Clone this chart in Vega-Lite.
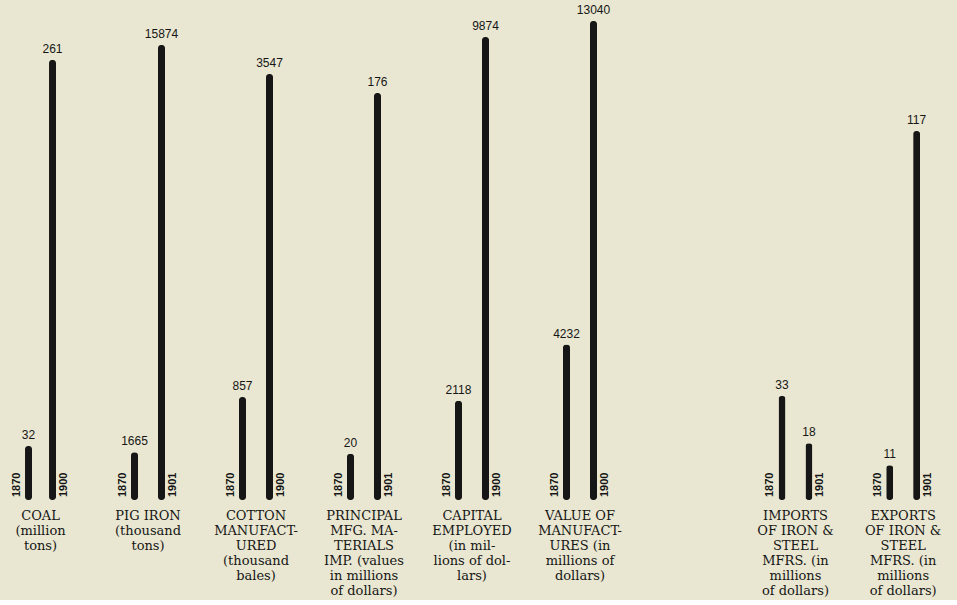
{
"$schema": "https://vega.github.io/schema/vega-lite/v6.json",
"background": "#e9e7d1",
"padding": {"left": 0, "right": 0, "top": 3, "bottom": 2},
"config": {"view": {"stroke": null}},
"spacing": 0,
"resolve": {"scale": {"x": "independent", "xOffset": "independent", "y": "independent"}},
"data": {"values": [
 {"item": "Coal", "label": "COAL\n(million\ntons)", "year": 1870, "value": 32},
 {"item": "Coal", "label": "COAL\n(million\ntons)", "year": 1900, "value": 261},
 {"item": "Pig", "label": "PIG IRON\n(thousand\ntons)", "year": 1870, "value": 1665},
 {"item": "Pig", "label": "PIG IRON\n(thousand\ntons)", "year": 1901, "value": 15874},
 {"item": "Cotton", "label": "COTTON\nMANUFACT-\nURED\n(thousand\nbales)", "year": 1870, "value": 857},
 {"item": "Cotton", "label": "COTTON\nMANUFACT-\nURED\n(thousand\nbales)", "year": 1900, "value": 3547},
 {"item": "Principal", "label": "PRINCIPAL\nMFG. MA-\nTERIALS\nIMP. (values\nin millions\nof dollars)", "year": 1870, "value": 20},
 {"item": "Principal", "label": "PRINCIPAL\nMFG. MA-\nTERIALS\nIMP. (values\nin millions\nof dollars)", "year": 1901, "value": 176},
 {"item": "Capital", "label": "CAPITAL\nEMPLOYED\n(in mil-\nlions of dol-\nlars)", "year": 1870, "value": 2118},
 {"item": "Capital", "label": "CAPITAL\nEMPLOYED\n(in mil-\nlions of dol-\nlars)", "year": 1900, "value": 9874},
 {"item": "Value", "label": "VALUE OF\nMANUFACT-\nURES (in\nmillions of\ndollars)", "year": 1870, "value": 4232},
 {"item": "Value", "label": "VALUE OF\nMANUFACT-\nURES (in\nmillions of\ndollars)", "year": 1900, "value": 13040},
 {"item": "Imports", "label": "IMPORTS\nOF IRON &\nSTEEL\nMFRS. (in\nmillions\nof dollars)", "year": 1870, "value": 33},
 {"item": "Imports", "label": "IMPORTS\nOF IRON &\nSTEEL\nMFRS. (in\nmillions\nof dollars)", "year": 1901, "value": 18},
 {"item": "Exports", "label": "EXPORTS\nOF IRON &\nSTEEL\nMFRS. (in\nmillions\nof dollars)", "year": 1870, "value": 11},
 {"item": "Exports", "label": "EXPORTS\nOF IRON &\nSTEEL\nMFRS. (in\nmillions\nof dollars)", "year": 1901, "value": 117}
]},
"hconcat": [
 {"width": 94, "height": 480,
  "transform": [{"filter": "datum.item === 'Coal'"}],
  "layer": [
   {"mark": {"type": "bar", "width": 7, "color": "#161616", "cornerRadius": 3},
    "encoding": {"x": {"field": "item", "type": "nominal", "axis": null, "scale": {"paddingInner": 0, "paddingOuter": 0.08, "align": 0}},
     "xOffset": {"field": "year", "type": "ordinal", "scale": {"paddingInner": 0, "paddingOuter": 0.6875}},
     "y": {"field": "value", "type": "quantitative", "axis": null, "scale": {"domain": [0, 284.7], "nice": false}}}},
   {"mark": {"type": "text", "baseline": "bottom", "dy": -4, "font": "Liberation Sans", "fontSize": 12, "color": "#161616"},
    "encoding": {"x": {"field": "item", "type": "nominal", "axis": null}, "xOffset": {"field": "year", "type": "ordinal"},
     "y": {"field": "value", "type": "quantitative", "axis": null}, "text": {"field": "value", "type": "quantitative", "format": "d"}}},
   {"transform": [{"filter": "datum.year === 1870"}],
    "mark": {"type": "text", "angle": 270, "align": "left", "baseline": "middle", "dx": 3, "dy": -12, "font": "Liberation Sans", "fontSize": 11, "fontWeight": "bold", "color": "#161616"},
    "encoding": {"x": {"field": "item", "type": "nominal", "axis": null}, "xOffset": {"field": "year", "type": "ordinal"},
     "y": {"datum": 0, "type": "quantitative", "axis": null}, "text": {"field": "year", "type": "nominal"}}},
   {"transform": [{"filter": "datum.year !== 1870"}],
    "mark": {"type": "text", "angle": 270, "align": "left", "baseline": "middle", "dx": 3, "dy": 11, "font": "Liberation Sans", "fontSize": 11, "fontWeight": "bold", "color": "#161616"},
    "encoding": {"x": {"field": "item", "type": "nominal", "axis": null}, "xOffset": {"field": "year", "type": "ordinal"},
     "y": {"datum": 0, "type": "quantitative", "axis": null}, "text": {"field": "year", "type": "nominal"}}},
   {"transform": [{"filter": "datum.year === 1870"}],
    "mark": {"type": "text", "baseline": "top", "dy": 10, "align": "center", "font": "DejaVu Serif", "fontSize": 13, "lineBreak": "\n", "lineHeight": 15, "color": "#161616"},
    "encoding": {"x": {"field": "item", "type": "nominal", "axis": null},
     "y": {"datum": 0, "type": "quantitative", "axis": null}, "text": {"field": "label", "type": "nominal"}}}
  ]},
 {"width": 108, "height": 480,
  "transform": [{"filter": "datum.item === 'Pig'"}],
  "layer": [
   {"mark": {"type": "bar", "width": 7, "color": "#161616", "cornerRadius": 3},
    "encoding": {"x": {"field": "item", "type": "nominal", "axis": null, "scale": {"paddingInner": 0, "paddingOuter": 0}},
     "xOffset": {"field": "year", "type": "ordinal", "scale": {"paddingInner": 0, "paddingOuter": 1.25}},
     "y": {"field": "value", "type": "quantitative", "axis": null, "scale": {"domain": [0, 16746], "nice": false}}}},
   {"mark": {"type": "text", "baseline": "bottom", "dy": -4, "font": "Liberation Sans", "fontSize": 12, "color": "#161616"},
    "encoding": {"x": {"field": "item", "type": "nominal", "axis": null}, "xOffset": {"field": "year", "type": "ordinal"},
     "y": {"field": "value", "type": "quantitative", "axis": null}, "text": {"field": "value", "type": "quantitative", "format": "d"}}},
   {"transform": [{"filter": "datum.year === 1870"}],
    "mark": {"type": "text", "angle": 270, "align": "left", "baseline": "middle", "dx": 3, "dy": -12, "font": "Liberation Sans", "fontSize": 11, "fontWeight": "bold", "color": "#161616"},
    "encoding": {"x": {"field": "item", "type": "nominal", "axis": null}, "xOffset": {"field": "year", "type": "ordinal"},
     "y": {"datum": 0, "type": "quantitative", "axis": null}, "text": {"field": "year", "type": "nominal"}}},
   {"transform": [{"filter": "datum.year !== 1870"}],
    "mark": {"type": "text", "angle": 270, "align": "left", "baseline": "middle", "dx": 3, "dy": 11, "font": "Liberation Sans", "fontSize": 11, "fontWeight": "bold", "color": "#161616"},
    "encoding": {"x": {"field": "item", "type": "nominal", "axis": null}, "xOffset": {"field": "year", "type": "ordinal"},
     "y": {"datum": 0, "type": "quantitative", "axis": null}, "text": {"field": "year", "type": "nominal"}}},
   {"transform": [{"filter": "datum.year === 1870"}],
    "mark": {"type": "text", "baseline": "top", "dy": 10, "align": "center", "font": "DejaVu Serif", "fontSize": 13, "lineBreak": "\n", "lineHeight": 15, "color": "#161616"},
    "encoding": {"x": {"field": "item", "type": "nominal", "axis": null},
     "y": {"datum": 0, "type": "quantitative", "axis": null}, "text": {"field": "label", "type": "nominal"}}}
  ]},
 {"width": 108, "height": 480,
  "transform": [{"filter": "datum.item === 'Cotton'"}],
  "layer": [
   {"mark": {"type": "bar", "width": 7, "color": "#161616", "cornerRadius": 3},
    "encoding": {"x": {"field": "item", "type": "nominal", "axis": null, "scale": {"paddingInner": 0, "paddingOuter": 0}},
     "xOffset": {"field": "year", "type": "ordinal", "scale": {"paddingInner": 0, "paddingOuter": 1.25}},
     "y": {"field": "value", "type": "quantitative", "axis": null, "scale": {"domain": [0, 3997], "nice": false}}}},
   {"mark": {"type": "text", "baseline": "bottom", "dy": -4, "font": "Liberation Sans", "fontSize": 12, "color": "#161616"},
    "encoding": {"x": {"field": "item", "type": "nominal", "axis": null}, "xOffset": {"field": "year", "type": "ordinal"},
     "y": {"field": "value", "type": "quantitative", "axis": null}, "text": {"field": "value", "type": "quantitative", "format": "d"}}},
   {"transform": [{"filter": "datum.year === 1870"}],
    "mark": {"type": "text", "angle": 270, "align": "left", "baseline": "middle", "dx": 3, "dy": -12, "font": "Liberation Sans", "fontSize": 11, "fontWeight": "bold", "color": "#161616"},
    "encoding": {"x": {"field": "item", "type": "nominal", "axis": null}, "xOffset": {"field": "year", "type": "ordinal"},
     "y": {"datum": 0, "type": "quantitative", "axis": null}, "text": {"field": "year", "type": "nominal"}}},
   {"transform": [{"filter": "datum.year !== 1870"}],
    "mark": {"type": "text", "angle": 270, "align": "left", "baseline": "middle", "dx": 3, "dy": 11, "font": "Liberation Sans", "fontSize": 11, "fontWeight": "bold", "color": "#161616"},
    "encoding": {"x": {"field": "item", "type": "nominal", "axis": null}, "xOffset": {"field": "year", "type": "ordinal"},
     "y": {"datum": 0, "type": "quantitative", "axis": null}, "text": {"field": "year", "type": "nominal"}}},
   {"transform": [{"filter": "datum.year === 1870"}],
    "mark": {"type": "text", "baseline": "top", "dy": 10, "align": "center", "font": "DejaVu Serif", "fontSize": 13, "lineBreak": "\n", "lineHeight": 15, "color": "#161616"},
    "encoding": {"x": {"field": "item", "type": "nominal", "axis": null},
     "y": {"datum": 0, "type": "quantitative", "axis": null}, "text": {"field": "label", "type": "nominal"}}}
  ]},
 {"width": 108, "height": 480,
  "transform": [{"filter": "datum.item === 'Principal'"}],
  "layer": [
   {"mark": {"type": "bar", "width": 7, "color": "#161616", "cornerRadius": 3},
    "encoding": {"x": {"field": "item", "type": "nominal", "axis": null, "scale": {"paddingInner": 0, "paddingOuter": 0}},
     "xOffset": {"field": "year", "type": "ordinal", "scale": {"paddingInner": 0, "paddingOuter": 1.25}},
     "y": {"field": "value", "type": "quantitative", "axis": null, "scale": {"domain": [0, 207.6], "nice": false}}}},
   {"mark": {"type": "text", "baseline": "bottom", "dy": -4, "font": "Liberation Sans", "fontSize": 12, "color": "#161616"},
    "encoding": {"x": {"field": "item", "type": "nominal", "axis": null}, "xOffset": {"field": "year", "type": "ordinal"},
     "y": {"field": "value", "type": "quantitative", "axis": null}, "text": {"field": "value", "type": "quantitative", "format": "d"}}},
   {"transform": [{"filter": "datum.year === 1870"}],
    "mark": {"type": "text", "angle": 270, "align": "left", "baseline": "middle", "dx": 3, "dy": -12, "font": "Liberation Sans", "fontSize": 11, "fontWeight": "bold", "color": "#161616"},
    "encoding": {"x": {"field": "item", "type": "nominal", "axis": null}, "xOffset": {"field": "year", "type": "ordinal"},
     "y": {"datum": 0, "type": "quantitative", "axis": null}, "text": {"field": "year", "type": "nominal"}}},
   {"transform": [{"filter": "datum.year !== 1870"}],
    "mark": {"type": "text", "angle": 270, "align": "left", "baseline": "middle", "dx": 3, "dy": 11, "font": "Liberation Sans", "fontSize": 11, "fontWeight": "bold", "color": "#161616"},
    "encoding": {"x": {"field": "item", "type": "nominal", "axis": null}, "xOffset": {"field": "year", "type": "ordinal"},
     "y": {"datum": 0, "type": "quantitative", "axis": null}, "text": {"field": "year", "type": "nominal"}}},
   {"transform": [{"filter": "datum.year === 1870"}],
    "mark": {"type": "text", "baseline": "top", "dy": 10, "align": "center", "font": "DejaVu Serif", "fontSize": 13, "lineBreak": "\n", "lineHeight": 15, "color": "#161616"},
    "encoding": {"x": {"field": "item", "type": "nominal", "axis": null},
     "y": {"datum": 0, "type": "quantitative", "axis": null}, "text": {"field": "label", "type": "nominal"}}}
  ]},
 {"width": 108, "height": 480,
  "transform": [{"filter": "datum.item === 'Capital'"}],
  "layer": [
   {"mark": {"type": "bar", "width": 7, "color": "#161616", "cornerRadius": 3},
    "encoding": {"x": {"field": "item", "type": "nominal", "axis": null, "scale": {"paddingInner": 0, "paddingOuter": 0}},
     "xOffset": {"field": "year", "type": "ordinal", "scale": {"paddingInner": 0, "paddingOuter": 1.25}},
     "y": {"field": "value", "type": "quantitative", "axis": null, "scale": {"domain": [0, 10237], "nice": false}}}},
   {"mark": {"type": "text", "baseline": "bottom", "dy": -4, "font": "Liberation Sans", "fontSize": 12, "color": "#161616"},
    "encoding": {"x": {"field": "item", "type": "nominal", "axis": null}, "xOffset": {"field": "year", "type": "ordinal"},
     "y": {"field": "value", "type": "quantitative", "axis": null}, "text": {"field": "value", "type": "quantitative", "format": "d"}}},
   {"transform": [{"filter": "datum.year === 1870"}],
    "mark": {"type": "text", "angle": 270, "align": "left", "baseline": "middle", "dx": 3, "dy": -12, "font": "Liberation Sans", "fontSize": 11, "fontWeight": "bold", "color": "#161616"},
    "encoding": {"x": {"field": "item", "type": "nominal", "axis": null}, "xOffset": {"field": "year", "type": "ordinal"},
     "y": {"datum": 0, "type": "quantitative", "axis": null}, "text": {"field": "year", "type": "nominal"}}},
   {"transform": [{"filter": "datum.year !== 1870"}],
    "mark": {"type": "text", "angle": 270, "align": "left", "baseline": "middle", "dx": 3, "dy": 11, "font": "Liberation Sans", "fontSize": 11, "fontWeight": "bold", "color": "#161616"},
    "encoding": {"x": {"field": "item", "type": "nominal", "axis": null}, "xOffset": {"field": "year", "type": "ordinal"},
     "y": {"datum": 0, "type": "quantitative", "axis": null}, "text": {"field": "year", "type": "nominal"}}},
   {"transform": [{"filter": "datum.year === 1870"}],
    "mark": {"type": "text", "baseline": "top", "dy": 10, "align": "center", "font": "DejaVu Serif", "fontSize": 13, "lineBreak": "\n", "lineHeight": 15, "color": "#161616"},
    "encoding": {"x": {"field": "item", "type": "nominal", "axis": null},
     "y": {"datum": 0, "type": "quantitative", "axis": null}, "text": {"field": "label", "type": "nominal"}}}
  ]},
 {"width": 108, "height": 480,
  "transform": [{"filter": "datum.item === 'Value'"}],
  "layer": [
   {"mark": {"type": "bar", "width": 7, "color": "#161616", "cornerRadius": 3},
    "encoding": {"x": {"field": "item", "type": "nominal", "axis": null, "scale": {"paddingInner": 0, "paddingOuter": 0}},
     "xOffset": {"field": "year", "type": "ordinal", "scale": {"paddingInner": 0, "paddingOuter": 1.0}},
     "y": {"field": "value", "type": "quantitative", "axis": null, "scale": {"domain": [0, 13067], "nice": false}}}},
   {"mark": {"type": "text", "baseline": "bottom", "dy": -4, "font": "Liberation Sans", "fontSize": 12, "color": "#161616"},
    "encoding": {"x": {"field": "item", "type": "nominal", "axis": null}, "xOffset": {"field": "year", "type": "ordinal"},
     "y": {"field": "value", "type": "quantitative", "axis": null}, "text": {"field": "value", "type": "quantitative", "format": "d"}}},
   {"transform": [{"filter": "datum.year === 1870"}],
    "mark": {"type": "text", "angle": 270, "align": "left", "baseline": "middle", "dx": 3, "dy": -12, "font": "Liberation Sans", "fontSize": 11, "fontWeight": "bold", "color": "#161616"},
    "encoding": {"x": {"field": "item", "type": "nominal", "axis": null}, "xOffset": {"field": "year", "type": "ordinal"},
     "y": {"datum": 0, "type": "quantitative", "axis": null}, "text": {"field": "year", "type": "nominal"}}},
   {"transform": [{"filter": "datum.year !== 1870"}],
    "mark": {"type": "text", "angle": 270, "align": "left", "baseline": "middle", "dx": 3, "dy": 11, "font": "Liberation Sans", "fontSize": 11, "fontWeight": "bold", "color": "#161616"},
    "encoding": {"x": {"field": "item", "type": "nominal", "axis": null}, "xOffset": {"field": "year", "type": "ordinal"},
     "y": {"datum": 0, "type": "quantitative", "axis": null}, "text": {"field": "year", "type": "nominal"}}},
   {"transform": [{"filter": "datum.year === 1870"}],
    "mark": {"type": "text", "baseline": "top", "dy": 10, "align": "center", "font": "DejaVu Serif", "fontSize": 13, "lineBreak": "\n", "lineHeight": 15, "color": "#161616"},
    "encoding": {"x": {"field": "item", "type": "nominal", "axis": null},
     "y": {"datum": 0, "type": "quantitative", "axis": null}, "text": {"field": "label", "type": "nominal"}}}
  ]},
 {"width": 323, "height": 480,
  "transform": [{"filter": "datum.item === 'Imports' || datum.item === 'Exports'"}],
  "layer": [
   {"mark": {"type": "bar", "width": 7, "color": "#161616", "cornerRadius": 3},
    "encoding": {"x": {"field": "item", "type": "nominal", "axis": null, "scale": {"domain": ["gap", "Imports", "Exports"], "paddingInner": 0, "paddingOuter": 0}},
     "xOffset": {"field": "year", "type": "ordinal", "scale": {"paddingInner": 0, "paddingOuter": 1.25}},
     "y": {"field": "value", "type": "quantitative", "axis": null, "scale": {"domain": [0, 152.2], "nice": false}}}},
   {"mark": {"type": "text", "baseline": "bottom", "dy": -4, "font": "Liberation Sans", "fontSize": 12, "color": "#161616"},
    "encoding": {"x": {"field": "item", "type": "nominal", "axis": null}, "xOffset": {"field": "year", "type": "ordinal"},
     "y": {"field": "value", "type": "quantitative", "axis": null}, "text": {"field": "value", "type": "quantitative", "format": "d"}}},
   {"transform": [{"filter": "datum.year === 1870"}],
    "mark": {"type": "text", "angle": 270, "align": "left", "baseline": "middle", "dx": 3, "dy": -12, "font": "Liberation Sans", "fontSize": 11, "fontWeight": "bold", "color": "#161616"},
    "encoding": {"x": {"field": "item", "type": "nominal", "axis": null}, "xOffset": {"field": "year", "type": "ordinal"},
     "y": {"datum": 0, "type": "quantitative", "axis": null}, "text": {"field": "year", "type": "nominal"}}},
   {"transform": [{"filter": "datum.year !== 1870"}],
    "mark": {"type": "text", "angle": 270, "align": "left", "baseline": "middle", "dx": 3, "dy": 11, "font": "Liberation Sans", "fontSize": 11, "fontWeight": "bold", "color": "#161616"},
    "encoding": {"x": {"field": "item", "type": "nominal", "axis": null}, "xOffset": {"field": "year", "type": "ordinal"},
     "y": {"datum": 0, "type": "quantitative", "axis": null}, "text": {"field": "year", "type": "nominal"}}},
   {"transform": [{"filter": "datum.year === 1870"}],
    "mark": {"type": "text", "baseline": "top", "dy": 10, "align": "center", "font": "DejaVu Serif", "fontSize": 13, "lineBreak": "\n", "lineHeight": 15, "color": "#161616"},
    "encoding": {"x": {"field": "item", "type": "nominal", "axis": null},
     "y": {"datum": 0, "type": "quantitative", "axis": null}, "text": {"field": "label", "type": "nominal"}}}
  ]}
]
}
